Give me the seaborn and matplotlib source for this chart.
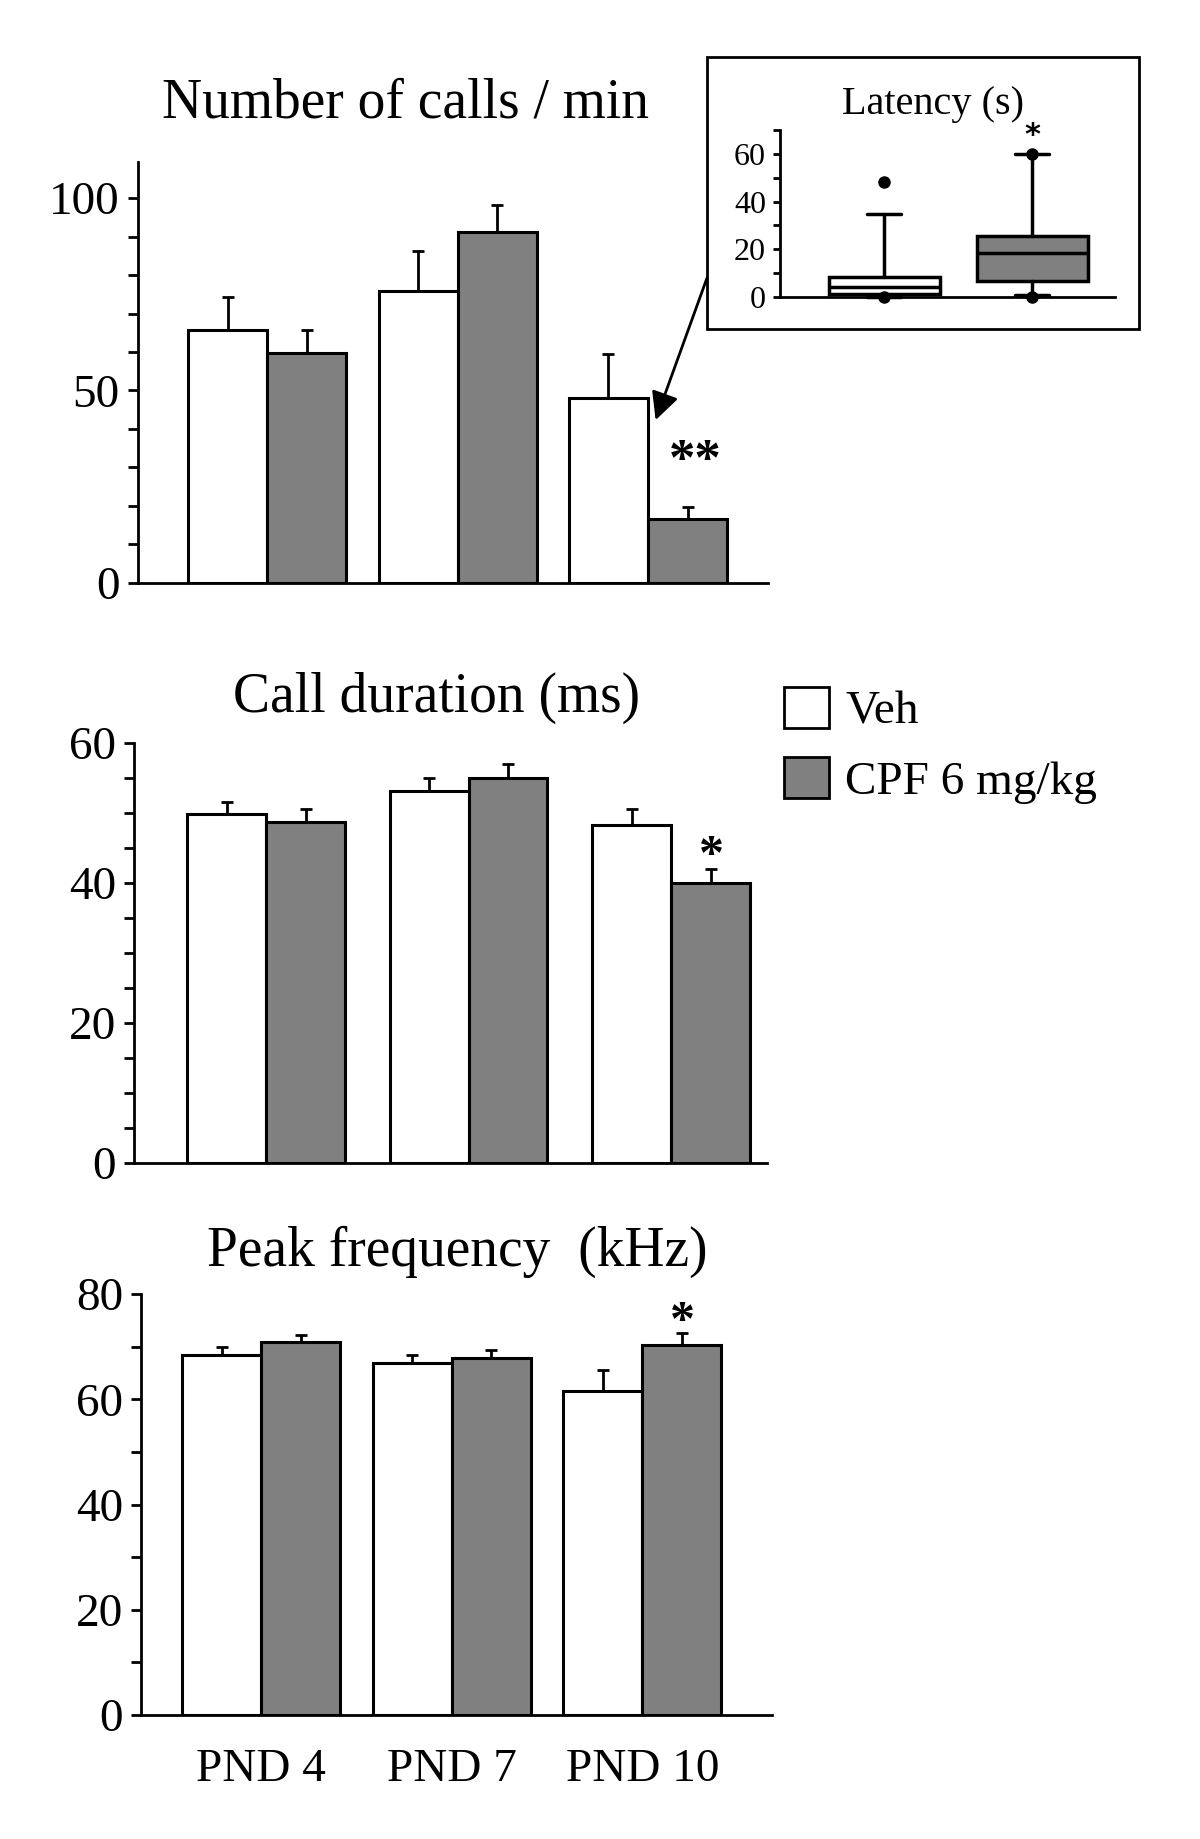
import numpy as np
import pandas as pd
import matplotlib
matplotlib.use('Agg')
import matplotlib.pyplot as plt
import matplotlib.patches as mpatches
from matplotlib.ticker import MultipleLocator
import seaborn as sns

# categories
days = ['PND 4', 'PND 7', 'PND 10']
groups = ['Veh', 'CPF 6 mg/kg']

# number of calls / min (mean, SEM)
calls_veh = [65.7, 75.9, 48.0]
calls_veh_se = [8.5, 10.4, 11.6]
calls_cpf = [59.8, 91.2, 16.6]
calls_cpf_se = [5.9, 7.0, 3.0]

# call duration (ms)
dur_veh = [49.8, 53.1, 48.3]
dur_veh_se = [1.8, 1.8, 2.3]
dur_cpf = [48.7, 54.9, 40.0]
dur_cpf_se = [1.9, 2.0, 2.0]

# peak frequency (kHz)
freq_veh = [68.4, 66.8, 61.5]
freq_veh_se = [1.5, 1.6, 4.0]
freq_cpf = [70.8, 67.9, 70.4]
freq_cpf_se = [1.4, 1.4, 2.2]

# latency (s) at PND 10, box summaries
lat_q1 = [1.3, 6.6]
lat_med = [4.2, 18.5]
lat_q3 = [8.2, 25.7]
lat_lo = [0.0, 0.7]
lat_hi = [35.0, 60.0]
lat_out = [[48.0, 0.0], [60.0, 0.0]]

palette = {'Veh': 'white', 'CPF 6 mg/kg': '#808080'}

sns.set_style('ticks')
plt.rcParams['font.family'] = ['Liberation Serif', 'DejaVu Serif']
plt.rcParams.update({'text.color': 'black', 'axes.edgecolor': 'black',
                     'xtick.color': 'black', 'ytick.color': 'black',
                     'axes.labelcolor': 'black'})

W, H = 1200, 1839
fig = plt.figure(figsize=(12, 18.39), dpi=100)


def px_axes(x0, x1, ytop, ybot):
    return fig.add_axes([x0 / W, 1 - ybot / H, (x1 - x0) / W, (ybot - ytop) / H])


def bar_panel(ax, veh, veh_se, cpf, cpf_se, width, xlim, ylim, major, minor):
    df = pd.DataFrame({'day': days * 2,
                       'group': [groups[0]] * 3 + [groups[1]] * 3,
                       'value': veh + cpf})
    sns.barplot(data=df, x='day', y='value', hue='group', order=days, hue_order=groups,
                palette=palette, edgecolor='black', linewidth=2.2, width=width, gap=0,
                saturation=1, errorbar=None, legend=False, ax=ax)
    for cont, se in zip(ax.containers, [veh_se, cpf_se]):
        xs = [b.get_x() + b.get_width() / 2 for b in cont]
        hs = [b.get_height() for b in cont]
        ax.errorbar(xs, hs, yerr=[np.zeros(len(se)), se], fmt='none', ecolor='black',
                    elinewidth=2, capsize=4, capthick=2, zorder=1)
    ax.set_xlim(*xlim)
    ax.set_ylim(*ylim)
    ax.yaxis.set_major_locator(MultipleLocator(major))
    ax.yaxis.set_minor_locator(MultipleLocator(minor))
    ax.set_xlabel('')
    ax.set_ylabel('')
    sns.despine(ax=ax)
    for s in ['left', 'bottom']:
        ax.spines[s].set_linewidth(2)
    ax.tick_params(axis='y', which='both', direction='out', length=7, width=2,
                   labelsize=34, pad=6)
    ax.tick_params(axis='x', length=0, labelsize=34, pad=24)


# panel 1: number of calls
ax1 = px_axes(137.6, 768, 161.7, 582.7)
bar_panel(ax1, calls_veh, calls_veh_se, calls_cpf, calls_cpf_se, 0.83,
          (-0.68, 2.63), (0, 109.5), 50, 10)
ax1.set_xticklabels([])
ax1.text(2.25, 28.0, '**', ha='center', va='baseline', fontsize=38, fontweight='bold')

# panel 2: call duration
ax2 = px_axes(134, 767, 742.7, 1162.7)
bar_panel(ax2, dur_veh, dur_veh_se, dur_cpf, dur_cpf_se, 0.78,
          (-0.652, 2.474), (0, 60), 20, 5)
ax2.set_xticklabels([])
ax2.text(2.2, 41.9, '*', ha='center', va='baseline', fontsize=36, fontweight='bold')

# panel 3: peak frequency
ax3 = px_axes(141, 772, 1294, 1715)
bar_panel(ax3, freq_veh, freq_veh_se, freq_cpf, freq_cpf_se, 0.83,
          (-0.63, 2.68), (0, 80), 20, 10)
ax3.text(2.21, 72.2, '*', ha='center', va='baseline', fontsize=36, fontweight='bold')

# titles
fig.text(405 / W, 1 - 118 / H, 'Number of calls / min', ha='center', va='baseline', fontsize=40)
fig.text(437 / W, 1 - 712 / H, 'Call duration (ms)', ha='center', va='baseline', fontsize=40)
fig.text(457 / W, 1 - 1266 / H, 'Peak frequency  (kHz)', ha='center', va='baseline', fontsize=40)

# legend
handles = [mpatches.Patch(facecolor=palette[g], edgecolor='black', linewidth=2) for g in groups]
fig.legend(handles, groups, loc='upper left', bbox_to_anchor=(784 / W, 1 - 687 / H),
           frameon=False, fontsize=34, handlelength=0.95, handleheight=0.95,
           handletextpad=0.35, borderpad=0, borderaxespad=0, labelspacing=0.5)

# inset: latency box plot
axin = px_axes(780, 1115, 130, 297)
stats = []
for i in range(2):
    stats.append({'med': lat_med[i], 'q1': lat_q1[i], 'q3': lat_q3[i],
                  'whislo': lat_lo[i], 'whishi': lat_hi[i], 'fliers': lat_out[i]})
bp = axin.bxp(stats, positions=[1, 2], widths=0.75, patch_artist=True, capwidths=0.23,
              boxprops=dict(linewidth=2.5, edgecolor='black'),
              medianprops=dict(color='black', linewidth=2.5),
              whiskerprops=dict(color='black', linewidth=2.5),
              capprops=dict(color='black', linewidth=2.5),
              flierprops=dict(marker='o', markerfacecolor='black', markeredgecolor='black',
                              markersize=8),
              manage_ticks=False)
for box, g in zip(bp['boxes'], groups):
    box.set_facecolor(palette[g])
for key in bp:
    for art in bp[key]:
        art.set_clip_on(False)
axin.set_xlim(0.295, 2.56)
axin.set_ylim(0, 70)
axin.set_xticks([])
axin.yaxis.set_major_locator(MultipleLocator(20))
axin.yaxis.set_minor_locator(MultipleLocator(10))
sns.despine(ax=axin)
for s in ['left', 'bottom']:
    axin.spines[s].set_linewidth(2)
axin.tick_params(axis='y', which='both', direction='out', length=5, width=2,
                 labelsize=23, pad=5)
axin.set_facecolor('none')
axin.text(2, 64.0, '*', ha='center', va='baseline', fontsize=22, fontweight='bold',
          family='DejaVu Sans')
fig.text(933 / W, 1 - 114 / H, 'Latency (s)', ha='center', va='baseline', fontsize=29)

# frame around inset
fig.patches.append(mpatches.Rectangle((707 / W, 1 - 329 / H), 432 / W, 272 / H,
                                      transform=fig.transFigure, fill=False,
                                      edgecolor='black', linewidth=2))

# arrow from inset to PND 10 CPF bar
ax1.annotate('', xy=(2.04, 42.3), xycoords='data',
             xytext=(707 / W, 1 - 278 / H), textcoords='figure fraction',
             arrowprops=dict(arrowstyle='-|>', color='black', lw=2, mutation_scale=42,
                             shrinkA=0, shrinkB=0))

fig.savefig('out.png', dpi=100)
